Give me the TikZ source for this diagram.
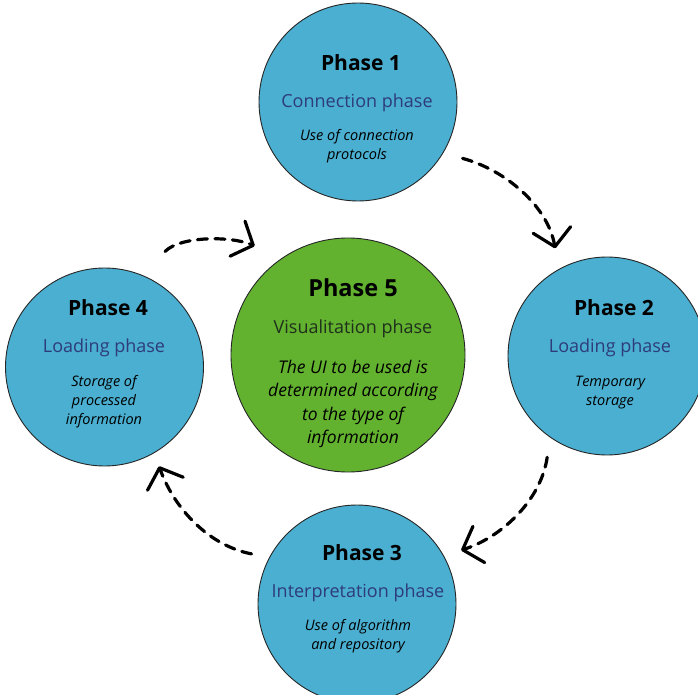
\documentclass[tikz,border=0pt]{standalone}
\usepackage{fontspec}
\setmainfont{Open Sans}
\usetikzlibrary{arrows.meta}
\definecolor{phaseBlue}{HTML}{4AAFD0}
\definecolor{phaseGreen}{HTML}{62B22F}
\definecolor{subBlue}{HTML}{2E3B7D}
\definecolor{subGreen}{HTML}{1F2F1C}

\tikzset{
  phase/.style={circle, draw=black!85, line width=0.9pt, fill=phaseBlue, minimum size=198pt, inner sep=0pt},
  ttl/.style={anchor=base, inner sep=0pt, font=\bfseries\fontsize{21}{25}\selectfont},
  subttl/.style={anchor=base, inner sep=0pt, text=subBlue, font=\fontsize{18}{22}\selectfont},
  desc/.style={anchor=base, inner sep=0pt, align=center, font=\itshape\fontsize{14.5}{19}\selectfont},
  flow/.style={line width=3.2pt, dash pattern=on 10pt off 7.5pt, line cap=round,
    -{Straight Barb[length=17pt, width=38pt, round]}}
}

\begin{document}
\begin{tikzpicture}[x=1pt, y=1pt]
  \useasboundingbox (0,0) rectangle (698,694);
  % blue phases: number / centre / text x / title baseline / last desc baseline
  \foreach \n/\cx/\cy/\tx/\ty/\ly/\sub/\desc in {
      1/358/592/357/623/89/{Connection phase}/{Use of connection\\protocols},
      2/607/338/610/378/89/{Loading phase}/{Temporary\\storage},
      3/357/90/358/134/89/{Interpretation phase}/{Use of algorithm\\and repository},
      4/104.5/327/104/378/108/{Loading phase}/{Storage of\\processed\\information}} {
    \node[phase] (p\n) at (\cx,\cy) {};
    \node[ttl, xshift=4pt] (t\n) at (\tx,\ty) {Phase \n};
    \node[subttl] (s\n) at (\tx,\ty-37) {\sub};
    \node[desc] (d\n) at (\tx,\ty-\ly) {\desc};
  }

  % centre phase
  \node[phase, fill=phaseGreen, minimum size=234pt] (p5) at (348,339) {};
  \node[ttl, font=\bfseries\fontsize{23.5}{28}\selectfont] (t5) at (353,397) {Phase 5};
  \node[subttl, text=subGreen] (s5) at (353,360) {Visualitation phase};
  \node[desc, font=\itshape\fontsize{17.5}{23.5}\selectfont] (d5) at (353,250.5)
    {The UI to be used is\\determined according\\to the type of\\information};

  % dashed cycle
  \draw[flow, shorten <=20pt, shorten >=21pt] (p1.-31) to[out=-15, in=100] (p2.119);
  \draw[flow, shorten <=20pt, shorten >=18pt] (p2.-125) to[out=-98, in=18] (p3.29);
  \draw[flow, shorten <=18pt, shorten >=14pt] (p3.152) to[out=169, in=-70] (p4.-60);
  \draw[flow, shorten <=33pt, shorten >=30pt] (p4.68) to[out=45, in=157] (p5.124);
\end{tikzpicture}
\end{document}
